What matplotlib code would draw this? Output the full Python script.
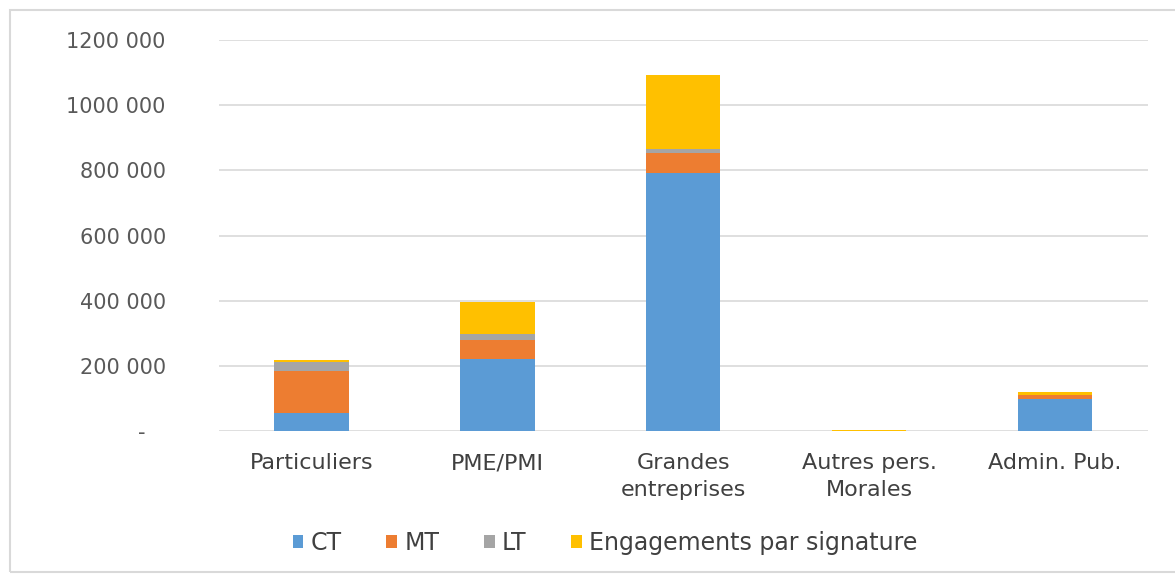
import matplotlib
matplotlib.use("Agg")
import matplotlib.pyplot as plt
from matplotlib.ticker import FuncFormatter
from matplotlib.patches import Rectangle

# Valeurs
categories = ["Particuliers", "PME/PMI", "Grandes\nentreprises", "Autres pers.\nMorales", "Admin. Pub."]
ct = [55000, 220000, 791000, 1000, 98000]
mt = [128000, 60000, 61000, 500, 12000]
lt = [30000, 17000, 12000, 0, 1000]
engagements = [4000, 100000, 228000, 3000, 8000]

series = [("CT", ct, "#5B9BD5"), ("MT", mt, "#ED7D31"),
          ("LT", lt, "#A5A5A5"), ("Engagements par signature", engagements, "#FFC000")]

plt.rcParams['font.family'] = ['DejaVu Sans']

fig = plt.figure(figsize=(11.75, 5.75), dpi=100)
ax = fig.add_axes([0.186, 0.2504, 0.791, 0.6800])

x = list(range(len(categories)))
bottom = [0] * len(categories)
for name, vals, col in series:
    ax.bar(x, vals, bottom=bottom, width=0.4, color=col, label=name, zorder=3)
    bottom = [b + v for b, v in zip(bottom, vals)]

ax.set_ylim(0, 1200000)
ax.set_xlim(-0.5, len(categories) - 0.5)
ax.set_yticks(range(0, 1200001, 200000))

def fmt(v, pos):
    if v == 0:
        return "-   "
    s = f"{int(v):,}".replace(",", " ")
    # format Excel : "1200 000"
    if v >= 1000000:
        s = s.replace(" ", "", 1)
    return s

ax.yaxis.set_major_formatter(FuncFormatter(fmt))
ax.grid(axis='y', color='#D9D9D9', linewidth=1.2, zorder=0)
for s in ax.spines.values():
    s.set_visible(False)
ax.tick_params(axis='y', length=0, labelsize=15, colors='#595959', pad=38)
ax.tick_params(axis='x', length=0, labelsize=16, colors='#404040', pad=16)
ax.set_xticks(x)
ax.set_xticklabels(categories, linespacing=1.45)

ax.legend(loc='center', bbox_to_anchor=(605 / 1175, 1 - 543 / 575), bbox_transform=fig.transFigure,
          ncol=4, frameon=False, fontsize=17, handlelength=0.45, handleheight=0.45,
          handletextpad=0.3, columnspacing=1.9, labelcolor='#404040')

# cadre du graphique
fig.patches.append(Rectangle((10 / 1175, 3 / 575), 1.2, 562 / 575, transform=fig.transFigure,
                             fill=False, edgecolor='#D9D9D9', linewidth=1.5))

fig.savefig("out.png", dpi=100)
